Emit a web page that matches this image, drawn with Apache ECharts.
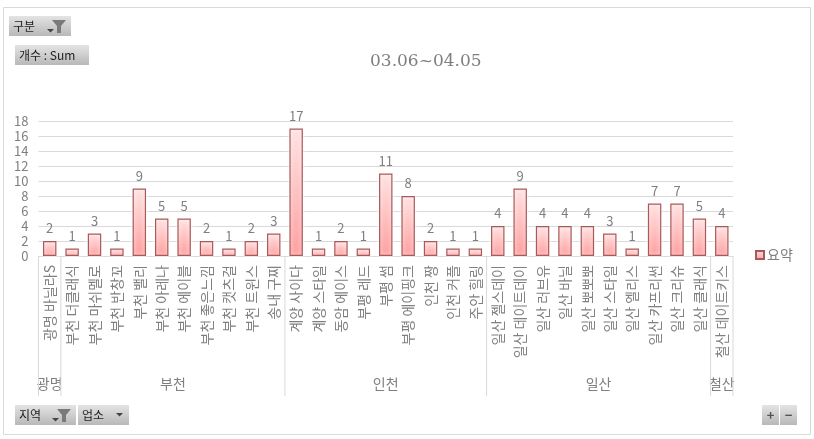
<!DOCTYPE html>
<html><head><meta charset="utf-8">
<style>html,body{margin:0;padding:0;background:#fff}#c{width:814px;height:439px}</style>
<script src="https://cdn.jsdelivr.net/npm/echarts@6/dist/echarts.min.js"></script>
</head><body><div id="c"></div>
<script>
const categories = ['광명 바닐라S','부천 더클래식','부천 마쉬멜로','부천 반창꼬','부천 밸리','부천 아레나','부천 에이블','부천 좋은느낌','부천 캣츠걸','부천 트윈스','송내 구찌','계양 사이다','계양 스타일','동암 에이스','부평 레드','부평 썸','부평 에이핑크','인천 짱','인천 커플','주안 힐링','일산 젤스데이','일산 데이트데이','일산 러브유','일산 바닐','일산 뽀뽀뽀','일산 스타일','일산 엘리스','일산 카프리썬','일산 크리슈','일산 클래식','철산 데이트키스'];
const values = [2,1,3,1,9,5,5,2,1,2,3,17,1,2,1,11,8,2,1,1,4,9,4,4,4,3,1,7,7,5,4];
const groupNames = ['광명','부천','인천','일산','철산'];
const groupStarts = [0,1,11,20,30];
const groupEnds = [0,10,19,29,30];
const yTicks = [0,2,4,6,8,10,12,14,16,18];
const seriesName = '요약';
const title = '03.06~04.05';

const FONT = '"Noto Sans CJK KR","Noto Sans",sans-serif';
const GREY = '#7f7f7f', LINE = '#d9d9d9';
const btnFill = {type:'linear',x:0,y:0,x2:0,y2:1,colorStops:[{offset:0,color:'#e4e4e4'},{offset:1,color:'#b8b8b8'}]};
function btn(x,y,w,h,label,tx){
  return [{type:'rect',shape:{x,y,width:w,height:h},style:{fill:btnFill}},
    {type:'text',x:x+(tx||4),y:y+h/2,style:{text:label,fill:'#222',font:'12px '+FONT,textVerticalAlign:'middle'}}];
}
function arrow(x,y){return {type:'polygon',shape:{points:[[x,y],[x+7,y],[x+3.5,y+3.5]]},style:{fill:'#444'}};}
function funnel(x,y){return {type:'polygon',shape:{points:[[x,y],[x+14,y],[x+9,y+6],[x+9,y+13],[x+5,y+13],[x+5,y+6]]},style:{fill:'#7a7a7a'}};}

const chart = echarts.init(document.getElementById('c'),null,{renderer:'canvas'});
chart.setOption({
  animation:false,
  title:{text:title,left:365,top:48,textStyle:{color:GREY,fontSize:17,fontWeight:'normal',fontFamily:'"DejaVu Serif","Liberation Serif",serif'}},
  grid:{left:38.5,right:81,top:121,height:135,containLabel:false},
  legend:{data:[{name:seriesName,icon:'rect'}],left:750,top:243,itemWidth:8,itemHeight:8,itemGap:3,
    textStyle:{color:GREY,fontSize:14,fontFamily:FONT,padding:[0,0,0,-2]}},
  xAxis:{type:'category',data:categories,
    axisLine:{lineStyle:{color:LINE}},
    axisTick:{show:false},
    axisLabel:{rotate:90,interval:0,color:GREY,fontSize:14,fontFamily:FONT,margin:9}},
  yAxis:{type:'value',min:0,max:18,interval:2,
    axisLine:{show:false},axisTick:{show:false},
    splitLine:{lineStyle:{color:LINE}},
    axisLabel:{color:GREY,fontSize:13,fontFamily:FONT,margin:10,
      formatter:v=>yTicks.includes(v)?String(v):''}},
  series:[
   {name:seriesName,type:'bar',data:values,barWidth:'60%',
    itemStyle:{color:{type:'linear',x:0,y:0,x2:0,y2:1,colorStops:[{offset:0,color:'#ffe3e3'},{offset:1,color:'#ff9f9f'}]},
      borderColor:'#a85a5a',borderWidth:1.2,shadowColor:'#ffffff',shadowBlur:4},
    label:{show:true,position:'top',distance:6,color:GREY,fontSize:13,fontFamily:FONT}},
   {name:'groups',type:'custom',silent:true,z:1,clip:false,
    data:groupNames.map((n,i)=>[groupStarts[i],groupEnds[i],n]),
    encode:{x:0},
    renderItem(params,api){
      const s=api.value(0),e=api.value(1),name=groupNames[params.dataIndex];
      const a=api.coord([s,0]),b=api.coord([e,0]);
      const band=api.size([1,0])[0];
      const y0=a[1];
      const kids=[{type:'text',style:{text:name,x:(a[0]+b[0])/2,y:y0+128,fill:GREY,font:'14px '+FONT,textAlign:'center',textVerticalAlign:'middle'}}];
      const lx=a[0]-band/2, rx=b[0]+band/2;
      kids.push({type:'line',shape:{x1:lx,y1:y0,x2:lx,y2:y0+140},style:{stroke:LINE,lineWidth:1}});
      if(params.dataIndex===groupNames.length-1) kids.push({type:'line',shape:{x1:rx,y1:y0,x2:rx,y2:y0+140},style:{stroke:LINE,lineWidth:1}});
      return {type:'group',children:kids};
    }}
  ],
  graphic:[
    {type:'rect',shape:{x:3.5,y:7.5,width:807,height:427},style:{fill:'none',stroke:'#d9d9d9',lineWidth:1},silent:true},
    ...btn(9,16,62,20,'구분'), arrow(47,29), funnel(52,20),
    ...btn(15,45,74,20,'개수 : Sum',4),
    ...btn(15,405,61,20,'지역'), arrow(52,418), funnel(57,409),
    ...btn(78,405,51,20,'업소'), arrow(116,413),
    {type:'rect',shape:{x:762,y:405,width:17,height:20},style:{fill:btnFill}},
    {type:'rect',shape:{x:780,y:405,width:17,height:20},style:{fill:btnFill}},
    {type:'text',x:770.5,y:415,style:{text:'+',fill:'#555',font:'bold 13px '+FONT,textAlign:'center',textVerticalAlign:'middle'}},
    {type:'text',x:788.5,y:415,style:{text:'−',fill:'#555',font:'bold 13px '+FONT,textAlign:'center',textVerticalAlign:'middle'}}
  ]
});
</script></body></html>
